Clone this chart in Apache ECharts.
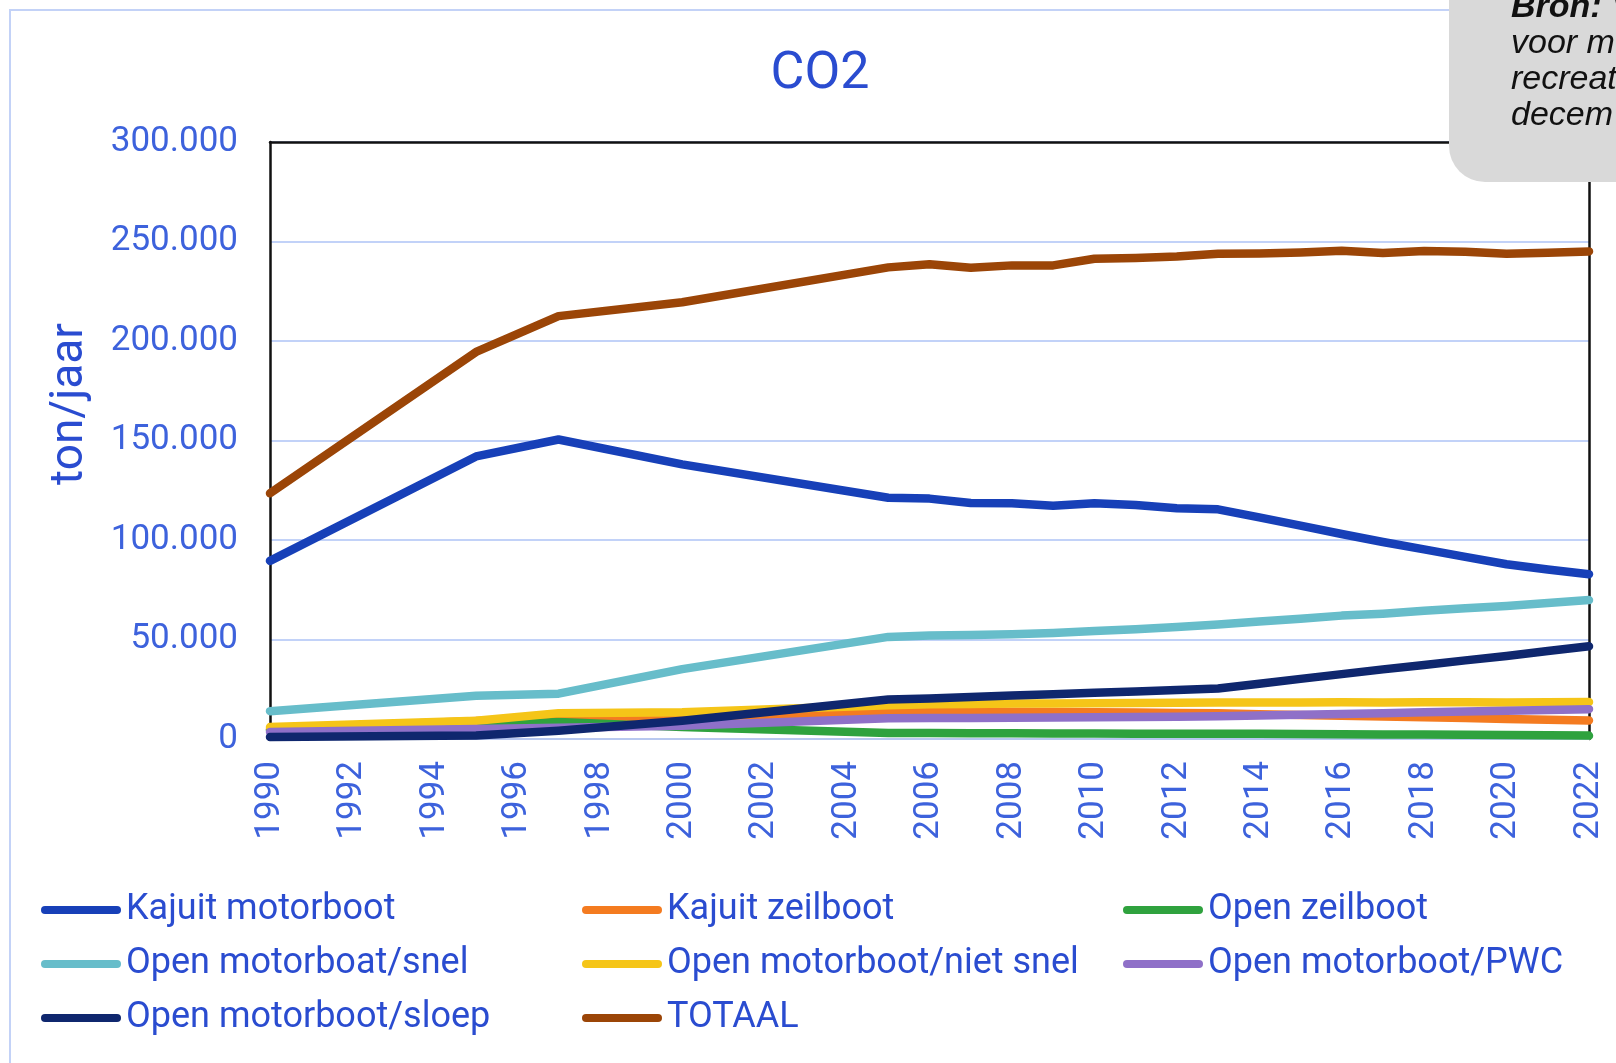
<!DOCTYPE html>
<html>
<head>
<meta charset="utf-8">
<script src="https://cdn.jsdelivr.net/npm/echarts@6/dist/echarts.min.js"></script>
<style>
html,body{margin:0;padding:0;background:#fff;}
#chart{width:1616px;height:1063px;}
</style>
</head>
<body>
<div id="chart"></div>
<script>
// ---- data (ton/jaar) ----
const YEARS = [1990,1995,1997,2000,2005,2006,2007,2008,2009,2010,2011,2012,2013,2014,2015,2016,2017,2018,2019,2020,2021,2022];
const KAJUIT_MOTORBOOT = [89500,142000,150500,138000,121200,120800,118600,118500,117200,118500,117600,116000,115400,111400,107200,103000,99000,95300,91500,87800,85200,82800];
const KAJUIT_ZEILBOOT = [5000,9000,10900,11000,13700,13800,13800,13700,13600,13500,13300,13100,12900,12500,12100,11700,11300,10900,10500,10100,9700,9300];
const OPEN_ZEILBOOT = [4500,6500,8500,6000,3000,3000,2900,2900,2800,2800,2700,2700,2600,2600,2500,2400,2300,2200,2100,2000,1900,1700];
const OPEN_SNEL = [14000,21700,22800,35100,51300,52000,52300,52700,53300,54300,55200,56300,57500,59000,60400,62000,63000,64400,65700,66800,68300,69800];
const OPEN_NIET_SNEL = [6000,9200,13000,13400,17000,17400,17600,17800,17900,18000,18100,18200,18300,18400,18400,18500,18400,18500,18500,18400,18500,18600];
const OPEN_PWC = [3500,5000,5600,6700,10400,10500,10600,10700,10800,10900,11000,11200,11400,11800,12200,12600,13000,13400,13800,14200,14600,15000];
const OPEN_SLOEP = [1000,1700,4200,9200,19800,20400,21100,21800,22500,23300,23900,24600,25400,27800,30200,32600,35000,37200,39500,41700,44200,46600];
const TOTAAL = [123500,194500,212500,219500,237000,238600,236800,238000,238000,241300,241700,242500,243800,244000,244500,245300,244200,245200,244900,243800,244300,245000];

const SERIES_NAMES = ['Kajuit motorboot','Kajuit zeilboot','Open zeilboot','Open motorboat/snel','Open motorboot/niet snel','Open motorboot/PWC','Open motorboot/sloep','TOTAAL'];
const SERIES_VALUES = [KAJUIT_MOTORBOOT,KAJUIT_ZEILBOOT,OPEN_ZEILBOOT,OPEN_SNEL,OPEN_NIET_SNEL,OPEN_PWC,OPEN_SLOEP,TOTAAL];
const COLORS = ['#1740b8','#f47b20','#2fa23e','#67bdca','#f5c518','#8f70c8','#0f276e','#9b4507'];

const TITLE = 'CO2';
const Y_NAME = 'ton/jaar';

const chart = echarts.init(document.getElementById('chart'));
const textBlue = '#2a4cd0';
const tickBlue = '#3d62dc';
const FONT = 'Roboto, "Open Sans", sans-serif';
const icon = 'path://M4,0 L76,0 A4,4 0 0 1 76,8 L4,8 A4,4 0 0 1 4,0 Z';

function legendCol(left, names){
  return {
    orient:'vertical', left:left, top:890, icon:icon, itemWidth:80, itemHeight:8,
    itemGap:14, padding:0,
    textStyle:{color:textBlue, fontFamily:FONT, fontSize:36, lineHeight:40, padding:[0,0,0,0]},
    data:names
  };
}

const option = {
  backgroundColor:'#ffffff',
  animation:false,
  title:{text:TITLE, left:815, textAlign:'center', top:44,
    textStyle:{color:textBlue, fontFamily:FONT, fontSize:52, fontWeight:'normal'}},
  legend:[
    legendCol(41,['Kajuit motorboot','Open motorboat/snel','Open motorboot/sloep']),
    legendCol(582,['Kajuit zeilboot','Open motorboot/niet snel','TOTAAL']),
    legendCol(1123,['Open zeilboot','Open motorboot/PWC'])
  ],
  grid:{left:270, right:27, top:142, bottom:324, containLabel:false},
  xAxis:[{
    type:'value', min:1990, max:2022, interval:2,
    axisLine:{show:true, lineStyle:{color:'#b8c8f0', width:2}},
    axisTick:{show:false}, splitLine:{show:false},
    axisLabel:{rotate:90, margin:22, color:tickBlue, fontFamily:FONT, fontSize:35,
      formatter:v=>String(v)}
  },{
    type:'value', min:1990, max:2022, position:'top',
    axisLine:{show:true, onZero:false, lineStyle:{color:'#111', width:2.5}},
    axisTick:{show:false}, axisLabel:{show:false}, splitLine:{show:false}
  }],
  yAxis:[{
    type:'value', min:0, max:300000, interval:50000,
    axisLine:{show:true, lineStyle:{color:'#111', width:2.5}},
    axisTick:{show:false},
    splitLine:{show:true, lineStyle:{color:'#c2d2f8', width:2}},
    axisLabel:{margin:32, color:tickBlue, fontFamily:FONT, fontSize:35,
      formatter:v=>v===0?'0':String(v).replace(/\B(?=(\d{3})+(?!\d))/g,'.')}
  },{
    type:'value', min:0, max:300000, position:'right',
    axisLine:{show:true, lineStyle:{color:'#111', width:2.5}},
    axisTick:{show:false}, axisLabel:{show:false}, splitLine:{show:false}
  }],
  series: SERIES_NAMES.map((name,i)=>({
    name:name, type:'line', xAxisIndex:0, yAxisIndex:0,
    showSymbol:false, symbol:'none',
    lineStyle:{color:COLORS[i], width:8.5, cap:'round', join:'round'},
    itemStyle:{color:COLORS[i]},
    z:2+i,
    data:YEARS.map((y,k)=>[y, SERIES_VALUES[i][k]])
  })),
  graphic:[
    {type:'rect', z:-10, silent:true, shape:{x:10,y:10,width:3000,height:3000},
      style:{fill:'none', stroke:'#c3d2f7', lineWidth:2}},
    {type:'text', z:5, silent:true, x:70, y:404, rotation:Math.PI/2,
      style:{text:Y_NAME, fill:textBlue, font:'46px Roboto, sans-serif',
        textAlign:'center', textVerticalAlign:'middle'}},
    {type:'rect', z:100, silent:true, shape:{x:1449,y:-60,width:400,height:242,r:36},
      style:{fill:'#d9d9d9'}},
    {type:'text', z:101, silent:true, left:1511, top:-10,
      style:{
        text:'{b|Bron:} V\nvoor m\nrecreat\ndecem',
        font:'italic 34px "Liberation Sans", Arial, sans-serif',
        fill:'#111', lineHeight:36,
        rich:{b:{fontWeight:'bold', fontStyle:'italic', fontSize:34, fontFamily:'"Liberation Sans", Arial, sans-serif', fill:'#111'}}
      }}
  ]
};
chart.setOption(option);
</script>
</body>
</html>
